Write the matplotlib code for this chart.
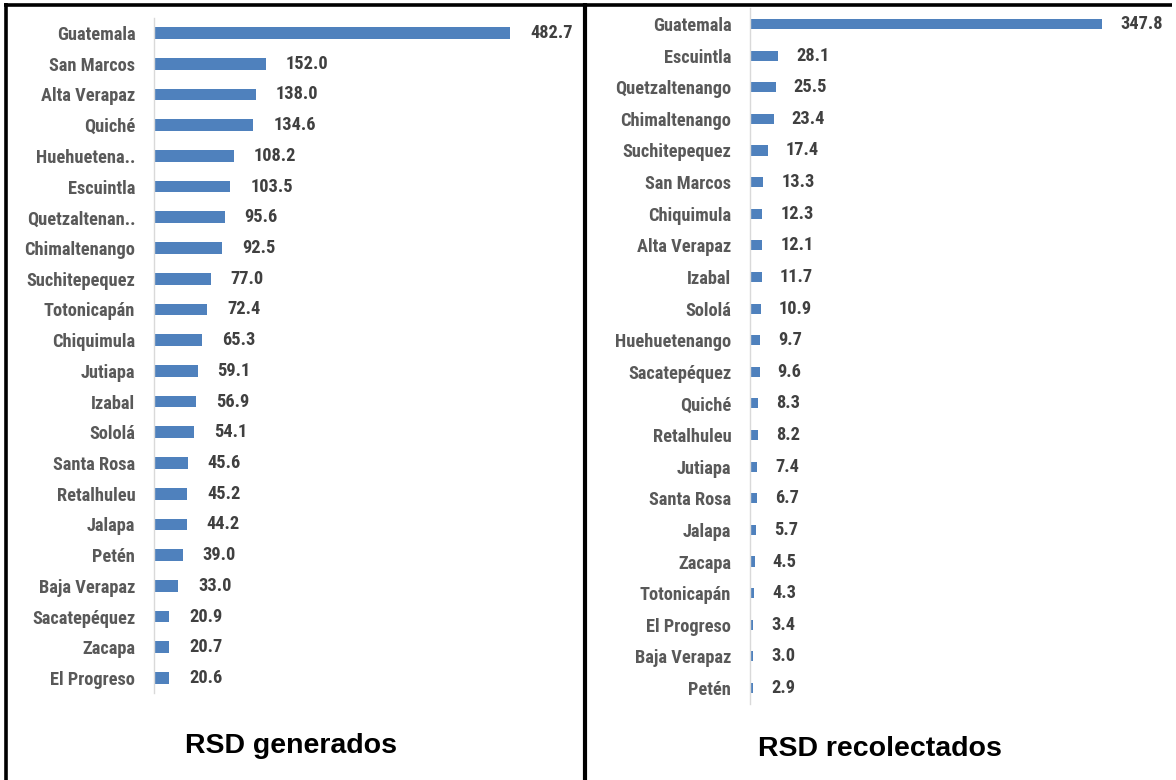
import matplotlib
matplotlib.use("Agg")
import matplotlib.pyplot as plt
from matplotlib.lines import Line2D
from matplotlib import font_manager

# RSD generados (left panel)
gen_names = ['Guatemala', 'San Marcos', 'Alta Verapaz', 'Quiché', 'Huehuetena..',
             'Escuintla', 'Quetzaltenan..', 'Chimaltenango', 'Suchitepequez',
             'Totonicapán', 'Chiquimula', 'Jutiapa', 'Izabal', 'Sololá',
             'Santa Rosa', 'Retalhuleu', 'Jalapa', 'Petén', 'Baja Verapaz',
             'Sacatepéquez', 'Zacapa', 'El Progreso']
gen_vals = [482.7, 152.0, 138.0, 134.6, 108.2, 103.5, 95.6, 92.5, 77.0, 72.4,
            65.3, 59.1, 56.9, 54.1, 45.6, 45.2, 44.2, 39.0, 33.0, 20.9, 20.7, 20.6]

# RSD recolectados (right panel)
rec_names = ['Guatemala', 'Escuintla', 'Quetzaltenango', 'Chimaltenango',
             'Suchitepequez', 'San Marcos', 'Chiquimula', 'Alta Verapaz',
             'Izabal', 'Sololá', 'Huehuetenango', 'Sacatepéquez', 'Quiché',
             'Retalhuleu', 'Jutiapa', 'Santa Rosa', 'Jalapa', 'Zacapa',
             'Totonicapán', 'El Progreso', 'Baja Verapaz', 'Petén']
rec_vals = [347.8, 28.1, 25.5, 23.4, 17.4, 13.3, 12.3, 12.1, 11.7, 10.9, 9.7,
            9.6, 8.3, 8.2, 7.4, 6.7, 5.7, 4.5, 4.3, 3.4, 3.0, 2.9]

W, H = 1176, 780

# pick a narrow font that is actually there
installed = set(f.name for f in font_manager.fontManager.ttflist)
narrow = [n for n in ['Liberation Sans Narrow', 'Arial Narrow', 'Roboto Condensed',
                      'Asap Condensed', 'Barlow Semi Condensed'] if n in installed]
narrow = narrow[:1] + ['DejaVu Sans']

bar_color = '#4f81bd'
label_color = '#595959'
value_color = '#404040'
fsize = 13.2

fig = plt.figure(figsize=(W / 100, H / 100), dpi=100)


def px_axes(x0, y0, x1, y1):
    # pixel box (top-left origin) -> figure fraction axes
    return fig.add_axes([x0 / W, 1 - y1 / H, (x1 - x0) / W, (y1 - y0) / H])


def panel(ax, names, vals, xmax, bar_h, offset_px, px_per_unit):
    y = list(range(len(names)))
    ax.barh(y, vals, height=bar_h, color=bar_color)
    ax.set_xlim(0, xmax)
    ax.set_ylim(len(names) - 0.5, -0.5)
    ax.set_yticks(y)
    ax.set_yticklabels(names, family=narrow, fontsize=fsize,
                       fontweight='bold', color=label_color)
    ax.tick_params(axis='y', length=0, pad=13.5)
    ax.set_xticks([])
    for s in ['top', 'right', 'bottom']:
        ax.spines[s].set_visible(False)
    ax.spines['left'].set_color('#d9d9d9')
    ax.spines['left'].set_linewidth(1.0)
    for yi, v in zip(y, vals):
        ax.text(v + offset_px / px_per_unit, yi, f'{v:.1f}', va='center',
                ha='left', family=narrow, fontsize=fsize, fontweight='bold',
                color=value_color)


# left panel: axis at x=154, 482.7 -> x=510, rows 33..678
spacing_l = (678 - 33) / 21
ppu_l = (510 - 154) / 482.7
ax1 = px_axes(154, 33 - spacing_l / 2, 578, 678 + spacing_l / 2)
panel(ax1, gen_names, gen_vals, (578 - 154) / ppu_l, 0.38, 20, ppu_l)

# right panel: axis at x=750, 347.8 -> x=1102, rows 24..688
spacing_r = (688 - 24) / 21
ppu_r = (1102 - 750) / 347.8
ax2 = px_axes(750, 24 - spacing_r / 2, 1170, 688 + spacing_r / 2)
panel(ax2, rec_names, rec_vals, (1170 - 750) / ppu_r, 0.32, 18, ppu_r)

fig.text(291 / W, 1 - 746 / H, 'RSD generados', ha='center', va='center',
         fontsize=20.5, fontweight='bold', family='Liberation Sans')
fig.text(880 / W, 1 - 749 / H, 'RSD recolectados', ha='center', va='center',
         fontsize=20.5, fontweight='bold', family='Liberation Sans')


# black frame lines
def fig_line(x0, y0, x1, y1, lw):
    fig.add_artist(Line2D([x0 / W, x1 / W], [1 - y0 / H, 1 - y1 / H],
                          color='black', linewidth=lw,
                          transform=fig.transFigure, solid_capstyle='butt'))


fig_line(4, 5, 1172, 5, 2.6)
fig_line(6, 3, 6, 780, 2.6)
fig_line(585, 3, 585, 780, 3.0)

fig.savefig('out.png', dpi=100, facecolor='white')
